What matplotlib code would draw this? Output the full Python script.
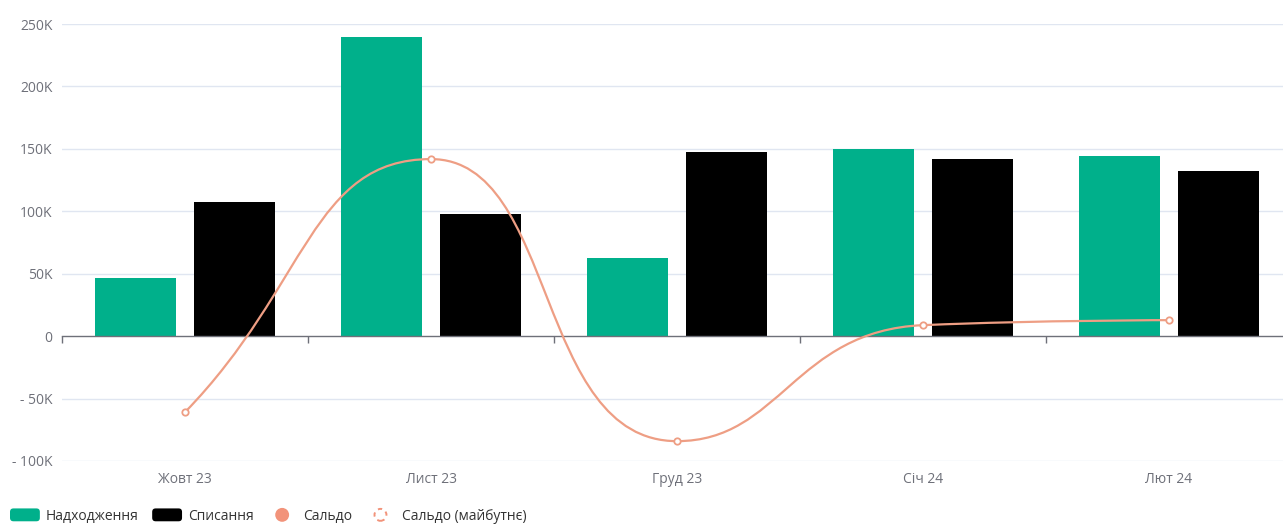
import matplotlib
matplotlib.use("Agg")
import matplotlib.pyplot as plt
import numpy as np
from matplotlib.path import Path
from matplotlib.patches import PathPatch, FancyBboxPatch, Circle, Patch
from matplotlib.lines import Line2D
from matplotlib.legend_handler import HandlerBase
from matplotlib.ticker import FuncFormatter, FixedLocator

plt.rcParams['font.family'] = ['Open Sans', 'DejaVu Sans']

# ---- data (UAH) ----
months = ["Жовт 23", "Лист 23", "Груд 23", "Січ 24", "Лют 24"]
income = [46500, 239600, 62500, 149800, 144200]      # Надходження
expenses = [107400, 97800, 147400, 141800, 132200]   # Списання
balance = [-60900, 141800, -84100, 8800, 12800]      # Сальдо

GREEN = "#00B08B"
BLACK = "#000000"
SALMON = "#EE9E84"
SALMON_DOT = "#F2937A"
AXIS = "#6E7079"
GRID = "#E0E6F1"
TEXT = "#333333"

W, H = 1283, 525
fig = plt.figure(figsize=(W / 100, H / 100), dpi=100)
ax = fig.add_axes([62 / W, (H - 461) / H, 1230 / W, 437 / H])

x = np.arange(len(months))
ax.set_xlim(-0.5, len(months) - 0.5)
ax.set_ylim(-100000, 250000)

# grid
yticks = np.arange(-100000, 250001, 50000)
ax.set_yticks(yticks)
for v in yticks:
    if v != 0:
        ax.axhline(v, color=GRID, lw=1, zorder=0)

def kfmt(v, _):
    if v == 0:
        return "0"
    s = f"{abs(v) / 1000:.0f}K"
    return f"- {s}" if v < 0 else s

ax.yaxis.set_major_formatter(FuncFormatter(kfmt))
ax.tick_params(axis='y', length=0, pad=7, labelcolor=AXIS, labelsize=10)

# bars
bw = 0.33
ax.bar(x - 0.2, income, width=bw, color=GREEN, zorder=2)
ax.bar(x + 0.2, expenses, width=bw, color=BLACK, zorder=2)

# spines / zero axis with boundary ticks
for s in ["top", "right", "left"]:
    ax.spines[s].set_visible(False)
ax.spines["bottom"].set_position(("data", 0))
ax.spines["bottom"].set_color(AXIS)
ax.spines["bottom"].set_linewidth(1)
ax.spines["bottom"].set_zorder(3)
ax.xaxis.set_major_locator(FixedLocator(np.arange(-0.5, len(months), 1.0)))
ax.tick_params(axis='x', which='major', length=5, width=1, color=AXIS,
               direction='out', labelbottom=False)

# category labels along the bottom edge
sec = ax.secondary_xaxis('bottom')
sec.set_xticks(x)
sec.set_xticklabels(months)
sec.tick_params(length=0, pad=8, labelcolor=AXIS, labelsize=10)
sec.spines['bottom'].set_visible(False)

# smooth balance curve (bezier with control points clamped to neighbours)
fig.canvas.draw()
pts = ax.transData.transform(np.column_stack([x, balance]))
smooth = 0.5
n = len(pts)
cps = []
for i in range(n):
    px, py = pts[i]
    prv = pts[i - 1] if i > 0 else pts[i]
    nxt = pts[i + 1] if i < n - 1 else pts[i]
    vx, vy = nxt[0] - prv[0], nxt[1] - prv[1]
    lp = np.hypot(px - prv[0], py - prv[1])
    ln = np.hypot(nxt[0] - px, nxt[1] - py)
    if lp + ln == 0:
        cps.append(((px, py), (px, py)))
        continue
    r = ln / (ln + lp)
    c1x = px + vx * smooth * r
    c1y = py + vy * smooth * r
    c1x = min(max(c1x, min(nxt[0], px)), max(nxt[0], px))
    c1y = min(max(c1y, min(nxt[1], py)), max(nxt[1], py))
    vx, vy = c1x - px, c1y - py
    if ln > 0 and lp > 0:
        c0x = px - vx * lp / ln
        c0y = py - vy * lp / ln
        c0x = min(max(c0x, min(prv[0], px)), max(prv[0], px))
        c0y = min(max(c0y, min(prv[1], py)), max(prv[1], py))
        vx, vy = px - c0x, py - c0y
        c1x = px + vx * ln / lp
        c1y = py + vy * ln / lp
    else:
        c0x, c0y = px, py
    cps.append(((c0x, c0y), (c1x, c1y)))

verts = [tuple(pts[0])]
codes = [Path.MOVETO]
for i in range(n - 1):
    verts += [cps[i][1], cps[i + 1][0], tuple(pts[i + 1])]
    codes += [Path.CURVE4] * 3
verts = ax.transData.inverted().transform(np.array(verts))
ax.add_patch(PathPatch(Path(verts, codes), fc='none', ec=SALMON, lw=1.6, zorder=4))
ax.plot(x, balance, ls='none', marker='o', ms=4.6, mfc='white', mec=SALMON, mew=1.3, zorder=5)

# legend
class RoundBox(HandlerBase):
    def create_artists(self, legend, orig, xd, yd, width, height, fontsize, trans):
        r = 2.5
        p = FancyBboxPatch((-xd + r, -yd + r), width - 2 * r, height - 2 * r,
                           boxstyle=f"round,pad={r}", fc=orig.get_facecolor(),
                           ec='none', transform=trans)
        return [p]

class Dot(HandlerBase):
    def __init__(self, dashed=False):
        super().__init__()
        self.dashed = dashed
    def create_artists(self, legend, orig, xd, yd, width, height, fontsize, trans):
        c = (-xd + width / 2, -yd + height / 2)
        if self.dashed:
            p = Circle(c, 4.3, fc='none', ec=SALMON_DOT, lw=1.4, ls=(0, (2.2, 2.2)), transform=trans)
        else:
            p = Circle(c, 5.0, fc=SALMON_DOT, ec='none', transform=trans)
        return [p]

h_in = Patch(fc=GREEN)
h_out = Patch(fc=BLACK)
h_bal = Line2D([], [])
h_fut = Line2D([], [])
fig.legend([h_in, h_out, h_bal, h_fut],
           ["Надходження", "Списання", "Сальдо", "Сальдо (майбутнє)"],
           handler_map={h_in: RoundBox(), h_out: RoundBox(), h_bal: Dot(), h_fut: Dot(True)},
           loc='center left', bbox_to_anchor=(10 / W, 1 - 516 / H), ncol=4,
           frameon=False, borderpad=0, borderaxespad=0, fontsize=10,
           handlelength=2.15, handleheight=1.05, handletextpad=0.45, columnspacing=0.95,
           labelcolor=TEXT)

fig.savefig("out.png", dpi=100)
